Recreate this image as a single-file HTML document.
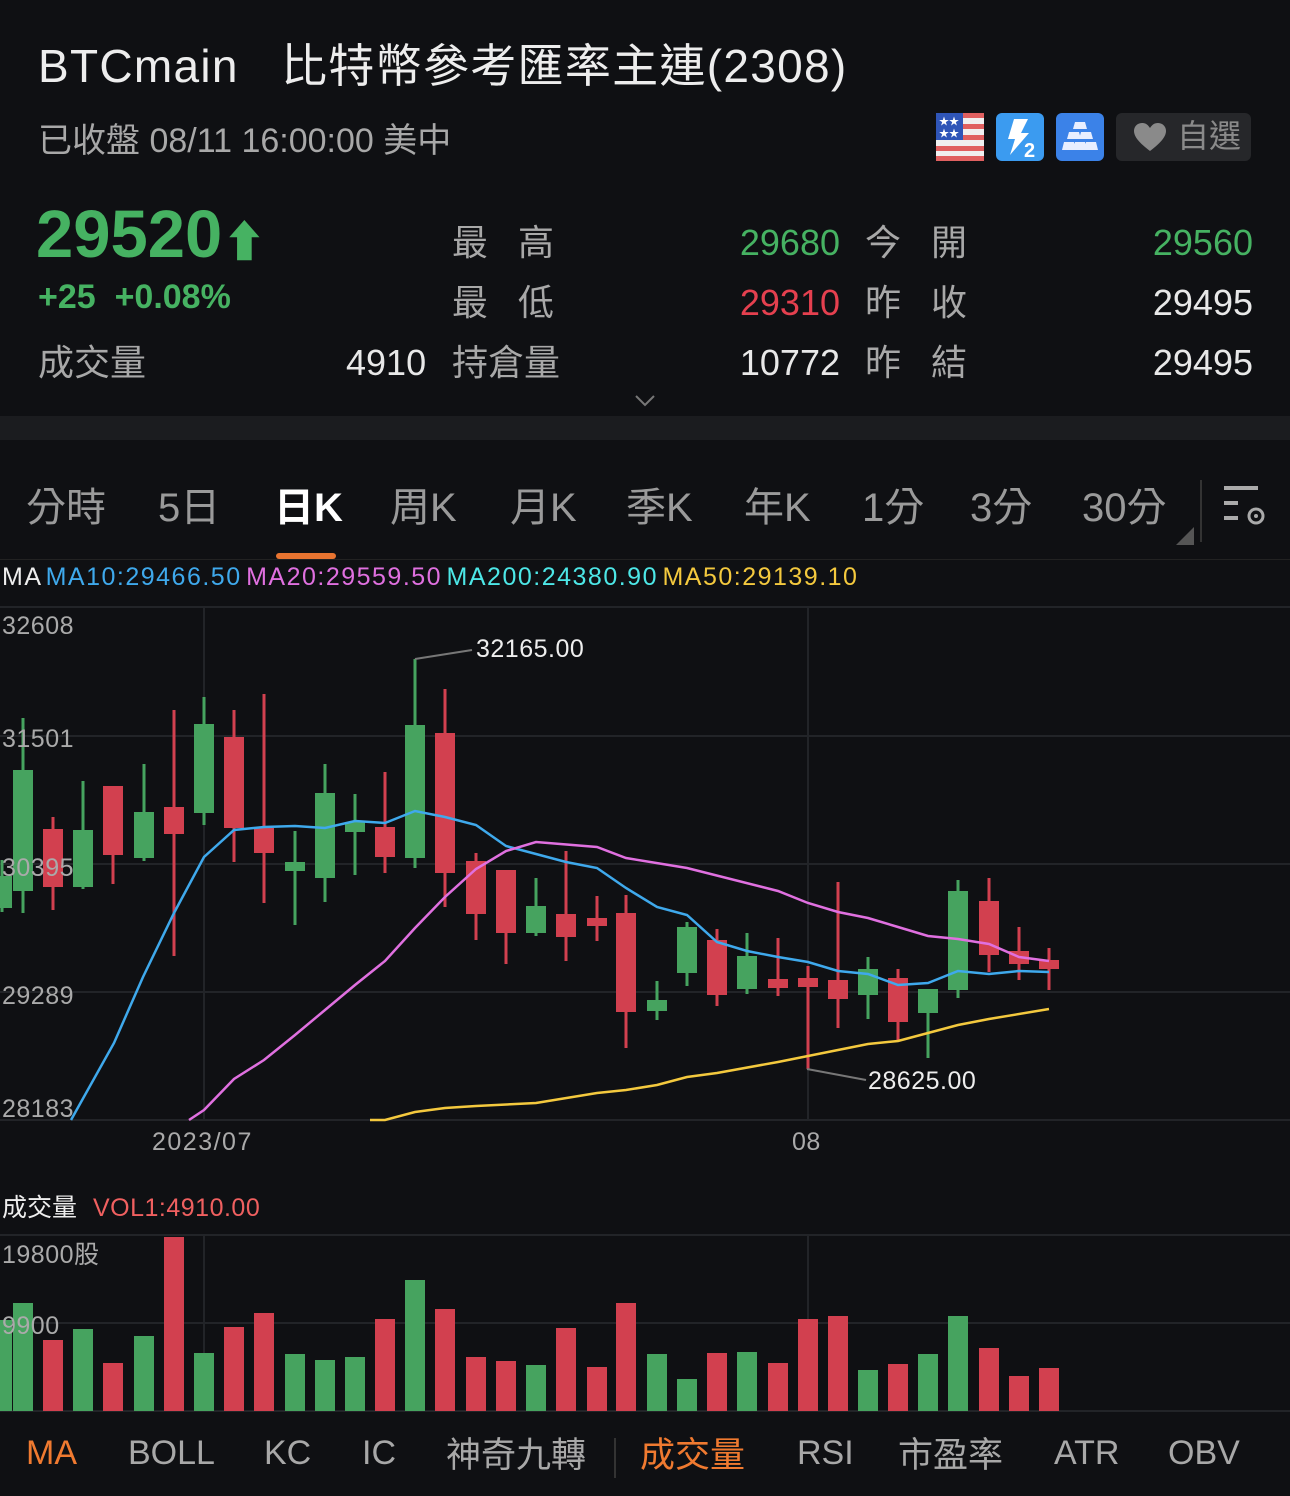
<!DOCTYPE html>
<html><head><meta charset="utf-8"><style>
body{margin:0;background:#0f1013;width:1290px;height:1496px;overflow:hidden;position:relative;font-family:"Liberation Sans","Noto Sans CJK TC",sans-serif;color:#e8e8e8}
.a{position:absolute;white-space:nowrap}
.g{color:#9a9a9a}
.gr{color:#46b262}.rd{color:#e5404f}
</style></head><body>
<div class="a" style="left:38px;top:30px;font-size:46px;letter-spacing:1.3px;color:#ededed">BTCmain&nbsp;&nbsp;&nbsp;比特幣參考匯率主連(2308)</div>
<div class="a g" style="left:38px;top:113px;font-size:34px;color:#a8a8a8">已收盤 08/11 16:00:00 美中</div>
<svg class="a" style="left:936px;top:113px" width="48" height="48"><rect width="48" height="48" rx="5" fill="#f0f0f0"/><g fill="#e06060"><rect y="0" width="48" height="5"/><rect y="11" width="48" height="5"/><rect y="22" width="48" height="5"/><rect y="33" width="48" height="5"/><rect y="43" width="48" height="5"/></g><rect width="27" height="27" fill="#2f55b8"/><text x="3" y="12" font-size="10" fill="#fff">★★</text><text x="3" y="24" font-size="10" fill="#fff">★★</text></svg>
<svg class="a" style="left:996px;top:113px" width="48" height="48"><rect width="48" height="48" rx="6" fill="#3b9bf0"/><path d="M18 6h14l-7 14h8L14 42l5-16h-7z" fill="#fff"/><text x="28" y="44" font-size="20" font-weight="bold" fill="#fff">2</text></svg>
<svg class="a" style="left:1056px;top:113px" width="48" height="48"><rect width="48" height="48" rx="6" fill="#3b82e8"/><g fill="#e8eeff"><path d="M19 9h10l2 7H17z"/><path d="M13 19h10l2 7H11z"/><path d="M25 19h10l2 7H23z"/><path d="M8 29h10l2 8H6z"/><path d="M19 29h10l2 8H17z"/><path d="M30 29h10l2 8H28z"/></g></svg>
<div class="a" style="left:1116px;top:113px;width:135px;height:48px;background:#26272a;border-radius:6px"></div>
<svg class="a" style="left:1133px;top:122px" width="34" height="30"><path d="M17 29C5 20 1 14 1 9 1 4 5 1 9 1c4 0 6 2 8 5 2-3 4-5 8-5 4 0 8 3 8 8 0 5-4 11-16 20z" fill="#8a8a8a"/></svg>
<div class="a" style="left:1177px;top:111px;font-size:32px;color:#8a8a8a">自選</div>

<div class="a gr" style="left:36px;top:196px;font-size:67px;font-weight:bold;color:#46b262">29520<span style="font-size:44px">⬆</span></div>
<div class="a gr" style="left:38px;top:278px;font-size:34px;font-weight:bold">+25 &nbsp;+0.08%</div>
<div class="a" style="left:38px;top:334px;font-size:36px;color:#a8a8a8">成交量</div>
<div class="a" style="left:346px;top:342px;font-size:36px">4910</div>
<div class="a" style="left:452px;top:214px;font-size:36px;color:#a8a8a8">最&nbsp;&nbsp;&nbsp;高</div>
<div class="a" style="left:452px;top:274px;font-size:36px;color:#a8a8a8">最&nbsp;&nbsp;&nbsp;低</div>
<div class="a" style="left:452px;top:334px;font-size:36px;color:#a8a8a8">持倉量</div>
<div class="a gr" style="right:450px;top:222px;font-size:36px">29680</div>
<div class="a rd" style="right:450px;top:282px;font-size:36px">29310</div>
<div class="a" style="right:450px;top:342px;font-size:36px">10772</div>
<div class="a" style="left:865px;top:214px;font-size:36px;color:#a8a8a8">今&nbsp;&nbsp;&nbsp;開</div>
<div class="a" style="left:865px;top:274px;font-size:36px;color:#a8a8a8">昨&nbsp;&nbsp;&nbsp;收</div>
<div class="a" style="left:865px;top:334px;font-size:36px;color:#a8a8a8">昨&nbsp;&nbsp;&nbsp;結</div>
<div class="a gr" style="right:37px;top:222px;font-size:36px">29560</div>
<div class="a" style="right:37px;top:282px;font-size:36px">29495</div>
<div class="a" style="right:37px;top:342px;font-size:36px">29495</div>
<svg class="a" style="left:634px;top:394px" width="22" height="14"><path d="M2 2l9 9 9-9" stroke="#777" stroke-width="2" fill="none"/></svg>
<div class="a" style="left:0;top:416px;width:1290px;height:24px;background:#1b1c1f"></div>

<div class="a" style="left:26px;top:475px;font-size:40px;color:#9a9a9a">分時</div>
<div class="a" style="left:158px;top:475px;font-size:40px;color:#9a9a9a">5日</div>
<div class="a" style="left:274px;top:475px;font-size:40px;color:#fff;font-weight:bold">日K</div>
<div class="a" style="left:390px;top:475px;font-size:40px;color:#9a9a9a">周K</div>
<div class="a" style="left:510px;top:475px;font-size:40px;color:#9a9a9a">月K</div>
<div class="a" style="left:626px;top:475px;font-size:40px;color:#9a9a9a">季K</div>
<div class="a" style="left:744px;top:475px;font-size:40px;color:#9a9a9a">年K</div>
<div class="a" style="left:862px;top:475px;font-size:40px;color:#9a9a9a">1分</div>
<div class="a" style="left:970px;top:475px;font-size:40px;color:#9a9a9a">3分</div>
<div class="a" style="left:1082px;top:475px;font-size:40px;color:#9a9a9a">30分</div>
<div class="a" style="left:276px;top:553px;width:60px;height:6px;background:#e87430;border-radius:3px"></div>
<svg class="a" style="left:1176px;top:478px" width="100" height="70"><path d="M0 67l18-18v18z" fill="#555"/><rect x="24" y="2" width="2" height="62" fill="#333"/><g fill="#aaa"><rect x="48" y="8" width="34" height="4"/><rect x="48" y="23" width="14" height="4"/><rect x="48" y="38" width="14" height="4"/></g><circle cx="80" cy="38" r="7" fill="none" stroke="#aaa" stroke-width="3"/><circle cx="80" cy="38" r="2" fill="#aaa"/></svg>
<div class="a" style="left:0;top:559px;width:1290px;height:1px;background:#222"></div>
<div class="a" style="left:2px;top:563px;font-size:25px;letter-spacing:1.5px;word-spacing:-4px"><span style="color:#eee">MA</span> <span style="color:#3fa9ec">MA10:29466.50</span> <span style="color:#e070e0">MA20:29559.50</span> <span style="color:#4de7e7">MA200:24380.90</span> <span style="color:#f4c93e">MA50:29139.10</span></div>

<svg class="a" style="left:0;top:0" width="1290" height="1496">
<g stroke="#222428" stroke-width="2"><line x1="0" y1="607" x2="1290" y2="607"/><line x1="0" y1="736" x2="1290" y2="736"/><line x1="0" y1="864" x2="1290" y2="864"/><line x1="0" y1="992" x2="1290" y2="992"/><line x1="0" y1="1120" x2="1290" y2="1120"/><line x1="204" y1="607" x2="204" y2="1120"/><line x1="808" y1="607" x2="808" y2="1120"/>
<line x1="0" y1="1235" x2="1290" y2="1235"/><line x1="0" y1="1323" x2="1290" y2="1323"/><line x1="0" y1="1411" x2="1290" y2="1411"/><line x1="204" y1="1235" x2="204" y2="1411"/><line x1="808" y1="1235" x2="808" y2="1411"/></g>
<g id="c"></g>
<polyline fill="none" stroke="#3fa9ec" stroke-width="2.5" points="71,1120 114,1043 143,977 174,913 204,857 234,830 264,827 295,826 325,828 355,821 385,823 415,811 445,817 476,825 506,846 536,854 566,862 597,868 626,888 657,907 687,915 717,942 747,951 778,957 808,962 838,971 868,974 898,985 928,983 958,971 989,974 1019,971 1049,972"/>
<polyline fill="none" stroke="#e070e0" stroke-width="2.5" points="189,1120 204,1110 234,1079 264,1060 295,1035 325,1010 355,985 385,961 415,928 445,897 476,869 506,851 536,842 597,847 626,858 687,868 778,891 808,903 838,912 868,918 898,927 928,936 958,939 989,944 1019,957 1049,961"/>
<polyline fill="none" stroke="#f4c93e" stroke-width="2.5" points="370,1120 385,1120 415,1112 445,1108 476,1106 536,1103 597,1093 626,1090 657,1085 687,1077 717,1073 778,1062 838,1050 868,1044 898,1041 928,1033 958,1025 989,1019 1049,1009"/>
<polyline fill="none" stroke="#777" stroke-width="2" points="415,659 472,650"/>
<polyline fill="none" stroke="#777" stroke-width="2" points="807,1069 866,1080"/>
<text x="476" y="657" font-size="25" fill="#eee" letter-spacing="0.5">32165.00</text>
<text x="868" y="1089" font-size="25" fill="#eee" letter-spacing="0.5">28625.00</text>
<g id="v"></g>
<g font-size="25" fill="#aaa" letter-spacing="0.5"><text x="2" y="634">32608</text><text x="2" y="747">31501</text><text x="2" y="876">30395</text><text x="2" y="1004">29289</text><text x="2" y="1117">28183</text>
<text x="152" y="1150" letter-spacing="1.5">2023/07</text><text x="792" y="1150">08</text>
<text x="2" y="1263">19800股</text><text x="2" y="1334">9900</text></g>
<text x="2" y="1216" font-size="25" fill="#eee">成交量</text><text x="93" y="1216" font-size="25" fill="#f06060" letter-spacing="0.5">VOL1:4910.00</text>
</svg>
<div class="a" style="left:0;top:1412px;width:1290px;height:84px;background:#0f1013"></div>
<div class="a" style="left:26px;top:1434px;font-size:34px;color:#f07a30">MA</div>
<div class="a" style="left:128px;top:1434px;font-size:34px;color:#a8a8a8">BOLL</div>
<div class="a" style="left:264px;top:1434px;font-size:34px;color:#a8a8a8">KC</div>
<div class="a" style="left:362px;top:1434px;font-size:34px;color:#a8a8a8">IC</div>
<div class="a" style="left:446px;top:1427px;font-size:35px;color:#a8a8a8">神奇九轉</div>
<div class="a" style="left:614px;top:1438px;width:2px;height:40px;background:#333"></div>
<div class="a" style="left:640px;top:1427px;font-size:35px;color:#f07a30">成交量</div>
<div class="a" style="left:797px;top:1434px;font-size:34px;color:#a8a8a8">RSI</div>
<div class="a" style="left:898px;top:1427px;font-size:35px;color:#a8a8a8">市盈率</div>
<div class="a" style="left:1054px;top:1434px;font-size:34px;color:#a8a8a8">ATR</div>
<div class="a" style="left:1168px;top:1434px;font-size:34px;color:#a8a8a8">OBV</div>
<script>
var d=[[2,1,876,908,860,912],
[23,1,770,891,718,913],[53,0,829,887,817,910],[83,1,830,887,781,889],[113,0,786,855,786,884],[144,1,812,858,764,861],[174,0,807,834,710,956],[204,1,724,813,697,825],[234,0,737,828,710,862],[264,0,828,853,694,903],[295,1,862,871,831,925],[325,1,793,878,764,902],[355,1,822,832,794,875],[385,0,827,857,772,873],[415,1,725,858,659,868],[445,0,733,873,689,907],[476,0,861,914,853,940],[506,0,870,933,870,964],[536,1,906,933,878,936],[566,0,914,937,851,961],[597,0,918,926,896,941],[626,0,913,1012,895,1048],[657,1,1000,1011,981,1020],[687,1,927,973,922,986],[717,0,940,995,929,1006],[747,1,956,989,933,994],[778,0,979,988,938,996],[808,0,978,987,966,1069],[838,0,980,999,882,1028],[868,1,969,995,957,1019],[898,0,978,1022,969,1041],[928,1,989,1013,989,1058],[958,1,891,990,880,998],[989,0,901,955,878,972],[1019,0,951,964,927,980],[1049,0,960,969,948,990]];
var vt=[1320,1303,1340,1329,1363,1336,1237,1353,1327,1313,1354,1360,1357,1319,1280,1309,1357,1361,1365,1328,1367,1303,1354,1379,1353,1352,1363,1319,1316,1370,1364,1354,1316,1348,1376,1368];
var s='',v='',ns='http://www.w3.org/2000/svg';
d.forEach(function(c,i){var col=c[1]?'#46a35f':'#d2404f';
s+='<rect x="'+(c[0]-1.5)+'" y="'+c[4]+'" width="3" height="'+(c[5]-c[4])+'" fill="'+col+'"/><rect x="'+(c[0]-10)+'" y="'+c[2]+'" width="20" height="'+Math.max(3,c[3]-c[2])+'" fill="'+col+'"/>';
v+='<rect x="'+(c[0]-10)+'" y="'+vt[i]+'" width="20" height="'+(1411-vt[i])+'" fill="'+col+'"/>';});
var sv=document.querySelector('svg[width="1290"]');
var t=document.createElementNS(ns,'g');t.innerHTML=s;sv.insertBefore(t,document.getElementById('c'));
var u=document.createElementNS(ns,'g');u.innerHTML=v;sv.insertBefore(u,document.getElementById('v'));
</script>
</body></html>
